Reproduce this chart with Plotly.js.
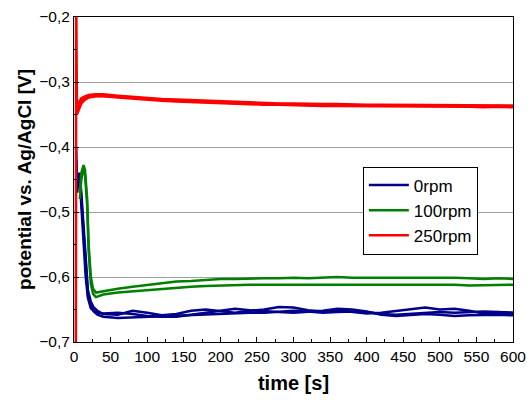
<!DOCTYPE html>
<html>
<head>
<meta charset="utf-8">
<script src="https://cdn.plot.ly/plotly-3.0.1.min.js"></script>
<style>html,body{margin:0;padding:0;background:#fff;}#chart{width:527px;height:400px;}</style>
</head>
<body>
<div id="chart"></div>
<script>
// Shared tail times (s)
var tailT = [40,60,80,100,120,140,160,180,200,220,240,260,280,300,320,340,360,380,400,420,440,460,480,500,520,540,560,580,600];

// 0rpm (three runs)
var blueStartT = [3,4,6,8,10,13,16,19,23,27,32];
var blue1Start = [-0.40,-0.46,-0.440,-0.443,-0.47,-0.52,-0.585,-0.620,-0.638,-0.647,-0.652];
var blue2Start = [-0.42,-0.47,-0.445,-0.448,-0.48,-0.53,-0.595,-0.628,-0.645,-0.653,-0.658];
var blue3Start = [-0.44,-0.47,-0.450,-0.453,-0.49,-0.54,-0.600,-0.632,-0.648,-0.652,-0.655];
var blue1Tail = [-0.657,-0.658,-0.652,-0.655,-0.659,-0.657,-0.652,-0.650,-0.653,-0.655,-0.652,-0.650,-0.646,-0.647,-0.651,-0.653,-0.651,-0.654,-0.656,-0.655,-0.652,-0.649,-0.647,-0.650,-0.649,-0.652,-0.656,-0.655,-0.655];
var blue2Tail = [-0.661,-0.663,-0.662,-0.661,-0.660,-0.660,-0.659,-0.657,-0.656,-0.656,-0.655,-0.655,-0.654,-0.652,-0.653,-0.655,-0.654,-0.653,-0.654,-0.657,-0.658,-0.657,-0.655,-0.654,-0.655,-0.654,-0.653,-0.654,-0.655];
var blue3Tail = [-0.656,-0.655,-0.657,-0.660,-0.661,-0.661,-0.658,-0.655,-0.651,-0.649,-0.651,-0.653,-0.654,-0.655,-0.654,-0.652,-0.649,-0.650,-0.653,-0.658,-0.660,-0.659,-0.657,-0.658,-0.660,-0.659,-0.658,-0.658,-0.659];

// 100rpm (two runs)
var greenStartT = [8,10,13,15,18,20,23,26,30,35];
var green1Start = [-0.47,-0.44,-0.428,-0.435,-0.48,-0.55,-0.60,-0.618,-0.624,-0.623];
var green2Start = [-0.48,-0.45,-0.433,-0.442,-0.49,-0.56,-0.61,-0.626,-0.631,-0.629];
var green1Tail = [-0.621,-0.618,-0.615,-0.612,-0.609,-0.607,-0.606,-0.604,-0.603,-0.603,-0.602,-0.602,-0.602,-0.601,-0.602,-0.601,-0.600,-0.601,-0.601,-0.600,-0.601,-0.601,-0.600,-0.601,-0.601,-0.602,-0.603,-0.602,-0.603];
var green2Tail = [-0.627,-0.624,-0.622,-0.620,-0.618,-0.616,-0.615,-0.614,-0.613,-0.613,-0.612,-0.612,-0.612,-0.611,-0.612,-0.612,-0.611,-0.612,-0.612,-0.612,-0.612,-0.611,-0.612,-0.612,-0.612,-0.613,-0.613,-0.612,-0.612];

// 250rpm (three runs)
var red1StartT = [2.5,3,4,6,8,10,15,20,30];
var red1Start = [-0.75,-0.15,-0.350,-0.344,-0.338,-0.333,-0.327,-0.324,-0.322];
var red2StartT = [3,4,6,8,10,15,20,30];
var red2Start = [-0.335,-0.336,-0.332,-0.328,-0.325,-0.322,-0.320,-0.319];
var red3StartT = [3,4,6,8,10,15,20,30];
var red3Start = [-0.345,-0.342,-0.337,-0.333,-0.329,-0.325,-0.322,-0.321];
var red1Tail = [-0.322,-0.324,-0.326,-0.327,-0.329,-0.330,-0.331,-0.332,-0.333,-0.334,-0.334,-0.335,-0.335,-0.336,-0.336,-0.337,-0.337,-0.337,-0.338,-0.338,-0.338,-0.338,-0.337,-0.338,-0.338,-0.338,-0.339,-0.338,-0.339];
var red2Tail = [-0.319,-0.321,-0.323,-0.324,-0.326,-0.327,-0.328,-0.329,-0.330,-0.331,-0.331,-0.332,-0.333,-0.333,-0.334,-0.334,-0.334,-0.335,-0.335,-0.335,-0.335,-0.335,-0.335,-0.335,-0.336,-0.336,-0.336,-0.336,-0.336];
var red3Tail = [-0.321,-0.322,-0.324,-0.326,-0.328,-0.329,-0.330,-0.331,-0.332,-0.332,-0.333,-0.334,-0.334,-0.335,-0.335,-0.336,-0.336,-0.336,-0.337,-0.337,-0.336,-0.337,-0.337,-0.337,-0.337,-0.337,-0.338,-0.337,-0.338];

var seriesNames = ['0rpm','100rpm','250rpm'];
var seriesColors = ['#00008B','#008000','#FF0000'];

function run(t0, y0, yTail, idx, first) {
  return {
    x: t0.concat(tailT), y: y0.concat(yTail),
    type: 'scatter', mode: 'lines',
    line: {color: seriesColors[idx], width: 2.5},
    name: seriesNames[idx], legendgroup: seriesNames[idx], showlegend: first
  };
}

var data = [
  run(blueStartT, blue1Start, blue1Tail, 0, true),
  run(blueStartT, blue2Start, blue2Tail, 0, false),
  run(blueStartT, blue3Start, blue3Tail, 0, false),
  run(greenStartT, green1Start, green1Tail, 1, true),
  run(greenStartT, green2Start, green2Tail, 1, false),
  run(red1StartT, red1Start, red1Tail, 2, true),
  run(red2StartT, red2Start, red2Tail, 2, false),
  run(red3StartT, red3Start, red3Tail, 2, false)
];

var fam = 'Liberation Sans, Arial, sans-serif';
var layout = {
  width: 527, height: 400,
  margin: {l: 74, r: 14, t: 17, b: 58},
  paper_bgcolor: '#fff', plot_bgcolor: '#fff',
  separators: ', ',
  font: {family: fam, size: 15.5, color: '#000'},
  showlegend: true,
  legend: {x: 0.658, y: 0.54, xanchor: 'left', yanchor: 'top',
           bgcolor: '#fff', bordercolor: '#000', borderwidth: 1,
           itemwidth: 40,
           font: {family: fam, size: 17, color: '#000'}, tracegroupgap: 0},
  xaxis: {
    range: [0, 600], dtick: 50, tick0: 0,
    showline: true, mirror: true, linecolor: '#000', linewidth: 1,
    ticks: 'inside', ticklen: 5, tickcolor: '#000',
    showgrid: false, zeroline: false,
    minor: {dtick: 25, ticks: 'inside', ticklen: 3, tickcolor: '#000', showgrid: false},
    tickfont: {family: fam, size: 15.5, color: '#000'},
    title: {text: '<b>time [s]</b>', font: {family: fam, size: 20, color: '#000'}, standoff: 12}
  },
  yaxis: {
    range: [-0.7, -0.2], dtick: 0.1, tick0: -0.7, tickformat: '.1f',
    showline: true, mirror: true, linecolor: '#000', linewidth: 1,
    ticks: 'inside', ticklen: 5, tickcolor: '#000',
    showgrid: true, gridcolor: '#a0a0a0', gridwidth: 1, zeroline: false,
    minor: {dtick: 0.05, ticks: 'inside', ticklen: 3, tickcolor: '#000', showgrid: false},
    tickfont: {family: fam, size: 15.5, color: '#000'},
    title: {text: '<b>potential vs. Ag/AgCl [V]</b>', font: {family: fam, size: 19, color: '#000'}, standoff: 2}
  }
};

Plotly.newPlot('chart', data, layout, {displayModeBar: false, staticPlot: true});
</script>
</body>
</html>
